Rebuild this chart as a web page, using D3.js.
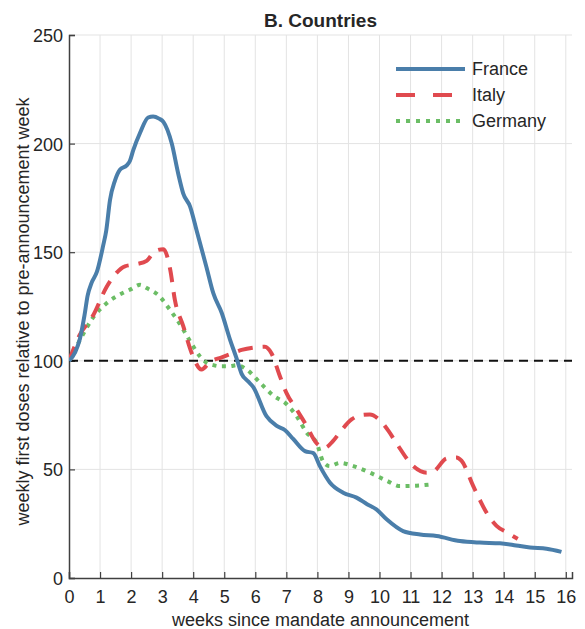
<!DOCTYPE html>
<html lang="en">

<head>
    <meta charset="UTF-8">
    <title>B. Countries</title>
    <script src="https://d3js.org/d3.v7.min.js"></script>
    <style>
        body,
        html {
            margin: 0;
            padding: 0;
            background: #fff;
        }

        svg text {
            font-family: "Liberation Sans", Arial, sans-serif;
            fill: #262626;
        }
    </style>
</head>

<body>
    <div id="chart"></div>

    <script>
        // weeks since announcement / index (pre-announcement week = 100)
        const franceWeeks = [0, 0.2, 0.35, 0.5, 0.6, 0.73, 0.9, 1.1, 1.2, 1.32, 1.48, 1.64, 1.86, 1.96, 2.07, 2.29, 2.55, 2.71, 2.9, 3.04, 3.31, 3.52, 3.68, 3.9, 4.11, 4.43, 4.65, 4.92, 5.18, 5.4, 5.56, 5.77, 5.93, 6.36, 6.69, 6.96, 7.22, 7.6, 7.87, 8.08, 8.4, 8.83, 9.26, 9.6, 9.9, 10.23, 10.76, 11.31, 11.84, 12.59, 13.23, 13.88, 14.4, 14.85, 15.38, 15.86];
        const franceValues = [100, 104, 110, 121, 130, 136, 141, 153, 160, 174, 183, 188, 190, 192, 197, 205, 212, 212.5, 211.5, 210, 200, 186, 177, 171, 160, 143, 131, 122, 110, 101, 94, 90.5, 88, 74.5, 70, 68, 64, 58.4, 57.5, 51.5, 44, 39.3, 37, 34, 31.6, 27, 21.6, 20, 19.3, 17, 16.3, 16, 15, 14, 13.5, 12];

        const italyWeeks = [0, 0.35, 0.78, 1.21, 1.5, 1.8, 2.18, 2.5, 2.77, 3.04, 3.26, 3.41, 3.68, 3.95, 4.27, 4.54, 4.9, 5.18, 5.56, 6.0, 6.31, 6.52, 6.79, 7.01, 7.33, 7.6, 7.98, 8.24, 8.5, 8.72, 9.1, 9.4, 9.69, 10.02, 10.3, 10.55, 11.09, 11.52, 11.73, 12.16, 12.48, 12.64, 13.02, 13.23, 13.45, 13.77, 14.1, 14.45];
        const italyValues = [100, 112, 121, 134, 140, 143.5, 144.5, 146, 150.5, 151.4, 142, 128, 116, 103.6, 96, 99.5, 101.5, 103, 105, 106.2, 106.5, 103.5, 93, 85, 77.6, 71.4, 62, 60, 63, 67, 73, 75, 75.3, 72.5, 67.5, 62, 51.5, 48.5, 49, 55, 55.5, 54, 42.3, 36, 30, 24, 21, 18];

        const germanyWeeks = [0, 0.35, 0.78, 1.21, 1.7, 2.0, 2.29, 2.5, 2.93, 3.25, 3.57, 3.9, 4.22, 4.44, 4.65, 4.86, 5.18, 5.4, 5.72, 6.15, 6.58, 7.01, 7.33, 7.65, 7.98, 8.19, 8.4, 8.72, 9.16, 9.69, 10.23, 10.66, 11.19, 11.73];
        const germanyValues = [100, 109.5, 120, 126.5, 131, 133, 135, 133.5, 129.5, 123.5, 117, 109, 102, 99, 98, 97.5, 97.5, 98, 96, 90, 84, 80, 74.5, 67, 62, 53.5, 51.5, 53, 51.5, 48.5, 44.8, 42.3, 42.5, 43.2];

        const countryNames = ["France", "Italy", "Germany"];
        const xTicks = d3.range(0, 17);
        const yTicks = [0, 50, 100, 150, 200, 250];
        const baseline = 100;

        const width = 585, height = 629;
        const margin = { top: 35, right: 13, bottom: 51, left: 69 };
        const innerW = width - margin.left - margin.right;
        const innerH = height - margin.top - margin.bottom;

        const svg = d3.select("#chart").append("svg")
            .attr("width", width)
            .attr("height", height);

        const g = svg.append("g")
            .attr("transform", `translate(${margin.left},${margin.top})`);

        const x = d3.scaleLinear().domain([0, 16.2]).range([0, innerW]);
        const y = d3.scaleLinear().domain([0, 250]).range([innerH, 0]);

        // grid
        g.append("g")
            .selectAll("line")
            .data(xTicks.filter(d => d > 0))
            .join("line")
            .attr("x1", d => x(d)).attr("x2", d => x(d))
            .attr("y1", 0).attr("y2", innerH)
            .attr("stroke", "#e3e3e3")
            .attr("stroke-width", 1);

        g.append("g")
            .selectAll("line")
            .data(yTicks.filter(d => d > 0))
            .join("line")
            .attr("x1", 0).attr("x2", innerW)
            .attr("y1", d => y(d)).attr("y2", d => y(d))
            .attr("stroke", "#e3e3e3")
            .attr("stroke-width", 1);

        // axes
        const xAxis = g.append("g")
            .attr("transform", `translate(0,${innerH})`)
            .call(d3.axisBottom(x).tickValues(xTicks).tickSize(-6).tickPadding(12).tickFormat(d3.format("d")));
        const yAxis = g.append("g")
            .call(d3.axisLeft(y).tickValues(yTicks).tickSize(-6).tickPadding(6));

        [xAxis, yAxis].forEach(a => {
            a.select(".domain").attr("stroke", "#404040").attr("stroke-width", 1.5);
            a.selectAll(".tick line").attr("stroke", "#404040").attr("stroke-width", 1.2);
            a.selectAll(".tick text")
                .attr("font-size", 18)
                .attr("font-family", "Liberation Sans, Arial, sans-serif")
                .attr("fill", "#262626");
        });
        yAxis.selectAll(".tick text").attr("dy", "0.36em");

        g.append("clipPath").attr("id", "clip")
            .append("rect").attr("width", innerW).attr("height", innerH);

        const plot = g.append("g").attr("clip-path", "url(#clip)");

        // reference line at 100
        plot.append("line")
            .attr("x1", 0).attr("x2", innerW)
            .attr("y1", y(baseline)).attr("y2", y(baseline))
            .attr("stroke", "#111")
            .attr("stroke-width", 2)
            .attr("stroke-dasharray", "9,6");

        const series = [
            { name: countryNames[0], weeks: franceWeeks, values: franceValues, color: "#4a7eaa", dash: null, legendDash: null },
            { name: countryNames[1], weeks: italyWeeks, values: italyValues, color: "#e04a4f", dash: "15,10", legendDash: "19,18" },
            { name: countryNames[2], weeks: germanyWeeks, values: germanyValues, color: "#6bbd65", dash: "4,5.5", legendDash: "4,6" }
        ];

        const line = d3.line()
            .x(d => x(d[0]))
            .y(d => y(d[1]))
            .curve(d3.curveMonotoneX);

        // draw in reverse so France sits on top
        series.slice().reverse().forEach(s => {
            plot.append("path")
                .datum(d3.zip(s.weeks, s.values))
                .attr("d", line)
                .attr("fill", "none")
                .attr("stroke", s.color)
                .attr("stroke-width", 4)
                .attr("stroke-dasharray", s.dash);
        });

        // legend
        const legend = svg.append("g").attr("transform", "translate(396,69)");
        series.forEach((s, i) => {
            const row = legend.append("g").attr("transform", `translate(0,${i * 26})`);
            row.append("line")
                .attr("x1", 0).attr("x2", 69)
                .attr("stroke", s.color)
                .attr("stroke-width", 4)
                .attr("stroke-dasharray", s.legendDash);
            row.append("text")
                .attr("x", 76)
                .attr("dy", "0.36em")
                .attr("font-size", 18)
                .text(s.name);
        });

        // title and axis labels
        svg.append("text")
            .attr("x", margin.left + innerW / 2)
            .attr("y", 27)
            .attr("text-anchor", "middle")
            .attr("font-size", 19)
            .attr("font-weight", "bold")
            .attr("fill", "#000")
            .text("B. Countries");

        svg.append("text")
            .attr("x", margin.left + innerW / 2)
            .attr("y", 626)
            .attr("text-anchor", "middle")
            .attr("font-size", 18)
            .text("weeks since mandate announcement");

        svg.append("text")
            .attr("transform", `translate(29,${margin.top + innerH / 2 + 5}) rotate(-90)`)
            .attr("text-anchor", "middle")
            .attr("font-size", 18)
            .text("weekly first doses relative to pre-announcement week");
    </script>
</body>

</html>
